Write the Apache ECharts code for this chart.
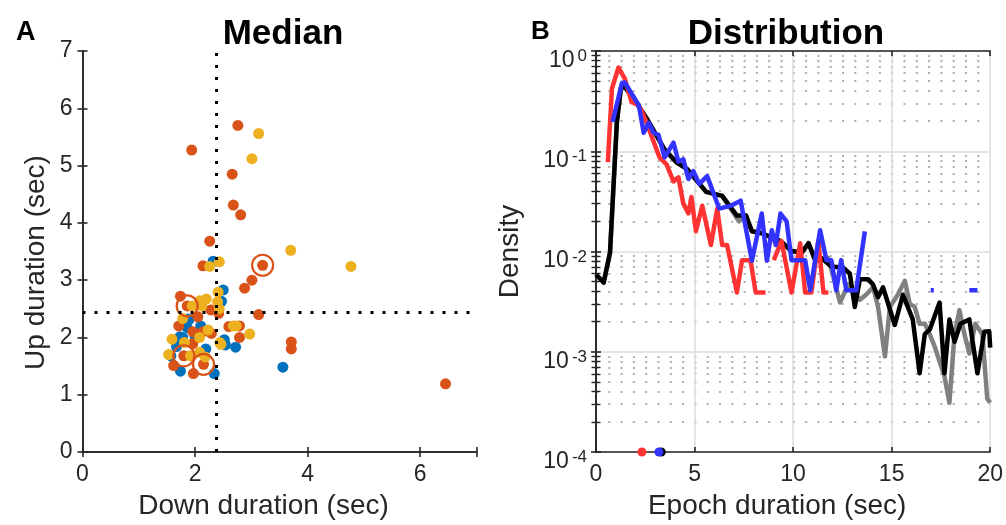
<!DOCTYPE html>
<html><head><meta charset="utf-8">
<script src="https://cdn.jsdelivr.net/npm/echarts@6/dist/echarts.min.js"></script>
<style>html,body{margin:0;padding:0;background:#fff}#c{width:1006px;height:525px}</style>
</head><body><div id="c"></div>
<script>
const FONT = "'Liberation Sans', Arial, Helvetica, sans-serif";
const AX = '#262626';

// ---------- Panel A : median up / down durations ----------
const blueUD = [[2.32,3.33],[2.50,2.83],[2.47,2.63],[1.87,2.32],[1.86,2.17],[2.10,2.20],[2.52,1.96],[2.54,1.87],[2.72,1.83],[3.56,1.48],[1.73,2.01],[2.19,1.80],[1.74,1.41],[2.34,1.37],[1.78,2.00],[1.67,1.84],[2.50,1.94],[1.89,2.31],[1.57,1.68],[2.00,2.02]];
const orangeUD = [[2.76,5.70],[1.94,5.27],[2.66,4.85],[2.68,4.31],[2.81,4.14],[2.26,3.68],[2.14,3.25],[3.20,3.26],[3.01,3.00],[2.88,2.86],[1.74,2.72],[1.86,2.55],[2.28,2.48],[2.42,2.42],[3.13,2.40],[2.05,2.36],[1.71,2.20],[1.96,2.10],[2.29,2.07],[2.60,2.19],[2.79,2.20],[2.79,2.00],[3.71,1.92],[3.71,1.80],[6.45,1.19],[1.96,1.89],[1.80,1.68],[2.15,1.53],[1.62,1.51],[1.97,1.37],[2.14,2.10]];
const yellowUD = [[3.13,5.56],[3.01,5.12],[3.70,3.52],[2.43,3.32],[2.26,3.24],[4.77,3.24],[2.41,2.79],[2.40,2.62],[2.43,2.50],[1.95,2.55],[2.12,2.55],[2.20,2.67],[2.08,2.64],[2.23,2.13],[2.73,2.20],[2.68,2.20],[2.97,2.06],[2.44,1.91],[1.59,1.97],[1.78,2.33],[2.08,2.00],[1.81,1.91],[1.53,1.70],[1.92,1.68],[2.08,1.74],[2.18,1.66],[2.46,1.88]];
const ringedUD = [[3.20,3.26],[1.86,2.55],[1.80,1.68],[2.15,1.53]];
const medianDown = 2.38;
const medianUp = 2.44;
const xTicksA = [0,2,4,6];

// ---------- Panel B : epoch duration distributions ----------
const grayDist = [[0,0.0059],[0.39,0.0049],[0.71,0.0097],[1.06,0.196],[1.26,0.423],[1.45,0.44],[1.96,0.323],[2.62,0.205],[3.48,0.104],[4.08,0.0775],[4.63,0.0662],[5.59,0.0393],[6.40,0.0359],[7.25,0.020],[7.61,0.0228],[7.91,0.0159],[8.41,0.0152],[9.37,0.0127],[9.92,0.0101],[10.43,0.0097],[10.78,0.0121],[11.13,0.0081],[11.79,0.0086],[12.38,0.0031],[12.80,0.0047],[13.39,0.0033],[13.70,0.0037],[14.06,0.0044],[14.31,0.0028],[14.66,0.0009],[14.91,0.0028],[15.31,0.0037],[15.67,0.0051],[15.92,0.0030],[16.17,0.0028],[16.42,0.0019],[16.68,0.0019],[16.93,0.0015],[17.18,0.00113],[17.68,0.00057],[17.93,0.00031],[18.19,0.0015],[18.44,0.0026],[18.69,0.0015],[18.94,0.00096],[19.24,0.0019],[19.60,0.0015],[19.85,0.00034],[20,0.00031]];
const blackDist = [[0,0.0059],[0.39,0.0049],[0.71,0.0097],[1.06,0.196],[1.26,0.423],[1.45,0.44],[1.96,0.323],[2.62,0.205],[3.48,0.104],[4.08,0.0775],[4.63,0.0662],[5.59,0.0393],[6.40,0.0359],[7.15,0.0228],[7.61,0.0228],[7.91,0.0159],[8.41,0.0152],[9.37,0.0127],[9.92,0.0101],[10.43,0.0097],[10.78,0.0121],[11.13,0.0081],[11.44,0.0086],[11.94,0.0071],[12.54,0.0069],[12.88,0.006],[13.13,0.0028],[13.39,0.0053],[13.80,0.0053],[14.05,0.0047],[14.31,0.0035],[14.56,0.0044],[15.16,0.00185],[15.57,0.0037],[16.07,0.0021],[16.42,0.00061],[16.68,0.0015],[16.93,0.00166],[17.43,0.0031],[17.68,0.00061],[17.93,0.0021],[18.19,0.00126],[18.49,0.0019],[18.94,0.0021],[19.35,0.00061],[19.70,0.00158],[19.95,0.0016],[20,0.0011]];
const redDistA = [[0.60,0.078],[0.81,0.423],[1.14,0.685],[1.46,0.531],[1.81,0.308],[2.17,0.288],[2.47,0.215],[2.92,0.125],[3.22,0.087],[3.58,0.074],[3.93,0.050],[4.18,0.055],[4.43,0.030],[4.69,0.024],[4.84,0.035],[5.07,0.0159],[5.39,0.0286],[5.83,0.0116],[6.15,0.0268],[6.40,0.0116],[6.65,0.0116],[7.15,0.0039],[7.41,0.0082],[7.84,0.0082],[8.10,0.0039],[8.60,0.0039]];
const redDistB = [[9.02,0.0082],[9.41,0.0127],[9.92,0.0039],[10.36,0.0121],[10.61,0.0039],[10.93,0.0039],[11.28,0.0127],[11.54,0.0039],[11.79,0.0039]];
const blueDistMain = [[0.84,0.196],[1.31,0.474],[1.46,0.485],[2.17,0.288],[2.42,0.153],[2.67,0.192],[2.92,0.153],[3.17,0.146],[3.48,0.087],[3.93,0.122],[4.18,0.079],[4.43,0.083],[4.69,0.0528],[4.94,0.0632],[5.24,0.0471],[5.64,0.0565],[6.25,0.0268],[6.84,0.0286],[7.34,0.0321],[7.91,0.0081],[8.41,0.0239],[8.67,0.0081],[8.92,0.0163],[9.12,0.0116],[9.36,0.0239],[9.67,0.020],[9.92,0.0082],[10.61,0.0082],[10.87,0.0041],[11.37,0.0163],[11.69,0.0082],[11.94,0.0082],[12.19,0.0041],[12.44,0.0082],[12.70,0.0041],[13.20,0.0041],[13.64,0.0159]];
const blueDistDot = [[16.98,0.0041],[17.14,0.0041]];
const blueDistDash = [[18.94,0.0041],[19.35,0.0041]];
const medianRed = [[2.33,1e-4]];
const medianBlack = [[3.31,1e-4]];
const medianBlue = [[3.19,1e-4]];

const chart = echarts.init(document.getElementById('c'), null, {renderer: 'canvas'});

const tickLbl = {fontFamily: FONT, fontSize: 23, color: AX};
const nameStyle = {fontFamily: FONT, fontSize: 28, color: AX};
const lineAx = {show: true, lineStyle: {color: AX, width: 1.6}};
const tickIn = {show: true, inside: true, length: 5, lineStyle: {color: AX, width: 1.6}};
const minorIn = {show: true, splitNumber: 9, length: 4.5, lineStyle: {color: AX, width: 1.4}};
const labelA = v => (xTicksA.indexOf(v) >= 0 ? String(v) : '');

const option = {
  animation: false,
  backgroundColor: '#fff',
  title: [
    {text: 'A', left: 11, top: 14, textStyle: {fontFamily: FONT, fontSize: 27, fontWeight: 'bold', color: '#000'}},
    {text: 'B', left: 526, top: 14, textStyle: {fontFamily: FONT, fontSize: 26, fontWeight: 'bold', color: '#000'}},
    {text: 'Median', left: 278, top: 12, textAlign: 'center', textStyle: {fontFamily: FONT, fontSize: 35, fontWeight: 'bold', color: '#000'}},
    {text: 'Distribution', left: 781, top: 12, textAlign: 'center', textStyle: {fontFamily: FONT, fontSize: 35, fontWeight: 'bold', color: '#000'}}
  ],
  grid: [
    {left: 82.5, top: 51, width: 394, height: 404},
    {left: 596, top: 51, width: 397, height: 404}
  ],
  xAxis: [
    {gridIndex: 0, type: 'value', position: 'bottom', min: 0, max: 7, interval: 2,
     axisLine: lineAx, axisTick: tickIn,
     axisLabel: Object.assign({margin: 11, formatter: labelA}, tickLbl),
     splitLine: {show: false},
     name: 'Down duration (sec)', nameLocation: 'middle', nameGap: 40,
     nameTextStyle: Object.assign({padding: [0, 32, 0, 0]}, nameStyle)},
    {gridIndex: 0, type: 'value', position: 'top', min: 0, max: 7, interval: 2,
     axisLine: lineAx, axisTick: tickIn, axisLabel: {show: false}, splitLine: {show: false}},
    {gridIndex: 1, type: 'value', position: 'bottom', min: 0, max: 20, interval: 5,
     axisLine: lineAx, axisTick: tickIn,
     axisLabel: Object.assign({margin: 11}, tickLbl),
     splitLine: {show: true, lineStyle: {color: '#dcdcdc', width: 1.5}},
     name: 'Epoch duration (sec)', nameLocation: 'middle', nameGap: 40,
     nameTextStyle: Object.assign({padding: [0, 32, 0, 0]}, nameStyle)},
    {gridIndex: 1, type: 'value', position: 'top', min: 0, max: 20, interval: 5,
     axisLine: lineAx, axisTick: tickIn, axisLabel: {show: false}, splitLine: {show: false}}
  ],
  yAxis: [
    {gridIndex: 0, type: 'value', position: 'left', min: 0, max: 7, interval: 1,
     axisLine: lineAx, axisTick: tickIn,
     axisLabel: Object.assign({margin: 10}, tickLbl),
     splitLine: {show: false},
     name: 'Up duration (sec)', nameLocation: 'middle', nameGap: 32,
     nameTextStyle: Object.assign({padding: [0, 22, 0, 0]}, nameStyle)},
    {gridIndex: 0, type: 'value', position: 'right', min: 0, max: 7, interval: 1,
     axisLine: lineAx, axisTick: tickIn, axisLabel: {show: false}, splitLine: {show: false}},
    {gridIndex: 1, type: 'log', logBase: 10, position: 'left', min: 1e-4, max: 1, splitNumber: 4,
     axisLine: lineAx, axisTick: tickIn, minorTick: minorIn,
     axisLabel: {margin: 9, padding: [18, 0, 0, 0],
       formatter: v => '{a|10}{b|' + Math.round(Math.log10(v)) + '}',
       rich: {
         a: {fontFamily: FONT, fontSize: 23, color: AX, lineHeight: 24, verticalAlign: 'bottom', padding: [6, 0, 0, 0]},
         b: {fontFamily: FONT, fontSize: 17, color: AX, lineHeight: 17, verticalAlign: 'top', padding: [0, 0, 0, 3]}
       }},
     splitLine: {show: true, lineStyle: {color: '#dcdcdc', width: 1.5}},
     minorSplitLine: {show: true, lineStyle: {color: '#b0b0b0', width: 1.8, type: [2, 10.3]}},
     name: 'Density', nameLocation: 'middle', nameGap: 72, nameTextStyle: nameStyle},
    {gridIndex: 1, type: 'log', logBase: 10, position: 'right', min: 1e-4, max: 1, splitNumber: 4,
     axisLine: lineAx, axisTick: tickIn, minorTick: minorIn,
     axisLabel: {show: false}, splitLine: {show: false}, minorSplitLine: {show: false}}
  ],
  series: [
    {type: 'scatter', xAxisIndex: 0, yAxisIndex: 0, data: blueUD, symbolSize: 11, itemStyle: {color: '#0072BD', opacity: 1}, z: 3},
    {type: 'scatter', xAxisIndex: 0, yAxisIndex: 0, data: orangeUD, symbolSize: 11, itemStyle: {color: '#D95319', opacity: 1}, z: 3,
     markLine: {silent: true, symbol: 'none', label: {show: false}, z: 6,
       lineStyle: {color: '#000', width: 3, type: [3, 9]},
       data: [{xAxis: medianDown}, {yAxis: medianUp}]}},
    {type: 'scatter', xAxisIndex: 0, yAxisIndex: 0, data: yellowUD, symbolSize: 11, itemStyle: {color: '#EDB120', opacity: 1}, z: 3},
    {type: 'scatter', xAxisIndex: 0, yAxisIndex: 0, data: ringedUD, symbolSize: 21, itemStyle: {color: 'rgba(0,0,0,0)', borderColor: '#D95319', borderWidth: 2.2, opacity: 1}, z: 4},

    {type: 'line', xAxisIndex: 2, yAxisIndex: 2, data: grayDist, showSymbol: false, symbol: 'none', z: 3,
     lineStyle: {color: '#808080', width: 4.5, join: 'round', cap: 'butt'}},
    {type: 'line', xAxisIndex: 2, yAxisIndex: 2, data: blackDist, showSymbol: false, symbol: 'none', z: 4,
     lineStyle: {color: '#000', width: 4.5, join: 'round', cap: 'butt'}},
    {type: 'line', xAxisIndex: 2, yAxisIndex: 2, data: redDistA, showSymbol: false, symbol: 'none', z: 5,
     lineStyle: {color: '#FF3333', width: 4.5, join: 'round', cap: 'butt'}},
    {type: 'line', xAxisIndex: 2, yAxisIndex: 2, data: redDistB, showSymbol: false, symbol: 'none', z: 5,
     lineStyle: {color: '#FF3333', width: 4.5, join: 'round', cap: 'butt'}},
    {type: 'line', xAxisIndex: 2, yAxisIndex: 2, data: blueDistMain, showSymbol: false, symbol: 'none', z: 6,
     lineStyle: {color: '#3333FF', width: 4.5, join: 'round', cap: 'butt'}},
    {type: 'line', xAxisIndex: 2, yAxisIndex: 2, data: blueDistDot, showSymbol: false, symbol: 'none', z: 6,
     lineStyle: {color: '#3333FF', width: 4.5, cap: 'butt'}},
    {type: 'line', xAxisIndex: 2, yAxisIndex: 2, data: blueDistDash, showSymbol: false, symbol: 'none', z: 6,
     lineStyle: {color: '#3333FF', width: 4.5, cap: 'butt'}},

    {type: 'scatter', xAxisIndex: 2, yAxisIndex: 2, data: medianRed, symbolSize: 9, clip: false, z: 10, itemStyle: {color: '#FF3333', opacity: 1}},
    {type: 'scatter', xAxisIndex: 2, yAxisIndex: 2, data: medianBlack, symbolSize: 9, clip: false, z: 10, itemStyle: {color: '#000', opacity: 1}},
    {type: 'scatter', xAxisIndex: 2, yAxisIndex: 2, data: medianBlue, symbolSize: 9, clip: false, z: 11, itemStyle: {color: '#3333FF', opacity: 1}}
  ]
};
chart.setOption(option);
</script></body></html>
